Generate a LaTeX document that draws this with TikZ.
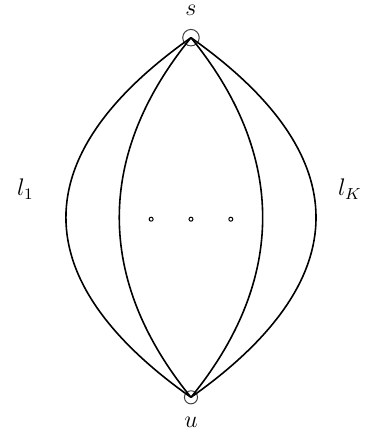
\documentclass[tikz,border=0pt]{standalone}
\usepackage{amsmath,amssymb}
\usetikzlibrary{positioning,calc}
\tikzset{
  endpoint/.style={circle, draw=black!75, line width=0.5pt, inner sep=0pt},
  pathline/.style={line width=0.8pt, black},
  smalldot/.style={circle, draw=black, line width=0.5pt, inner sep=0pt, minimum size=2pt},
  pathlabel/.style={font=\large, inner sep=1pt}
}

\begin{document}
\begin{tikzpicture}
    % Fix margins of the picture
    \useasboundingbox (-3.356,-3.875) rectangle (3.146,3.822);
    % Source and sink
    \node[endpoint, minimum size=2.9mm] (s) at (0, 3.16) {};
    \node[endpoint, minimum size=2.3mm] (u) at (0,-3.16) {};
    \node[pathlabel] (slabel) at (0, 3.64) {$s$};
    \node[pathlabel] (ulabel) at (0,-3.60) {$u$};
    % Outer paths l_1 and l_K
    \draw[pathline] (s.center) .. controls (-2.93, 1.09) and (-2.93,-1.09) .. (u.center);
    \draw[pathline] (s.center) .. controls ( 2.93, 1.09) and ( 2.93,-1.09) .. (u.center);
    % Inner paths
    \draw[pathline] (s.center) .. controls (-1.68, 1.10) and (-1.68,-1.10) .. (u.center);
    \draw[pathline] (s.center) .. controls ( 1.68, 1.10) and ( 1.68,-1.10) .. (u.center);
    % Path labels
    \node[pathlabel] (lfirst) at (-2.91, 0.50) {$l_1$};
    \node[pathlabel] (llast) at ( 2.79, 0.50) {$l_K$};
    % Dots standing for the remaining paths
    \foreach \xpos/\name in {-0.70/da, 0/db, 0.70/dc} {
      \node[smalldot] (\name) at (\xpos,-0.03) {};
    }
\end{tikzpicture}
\end{document}
